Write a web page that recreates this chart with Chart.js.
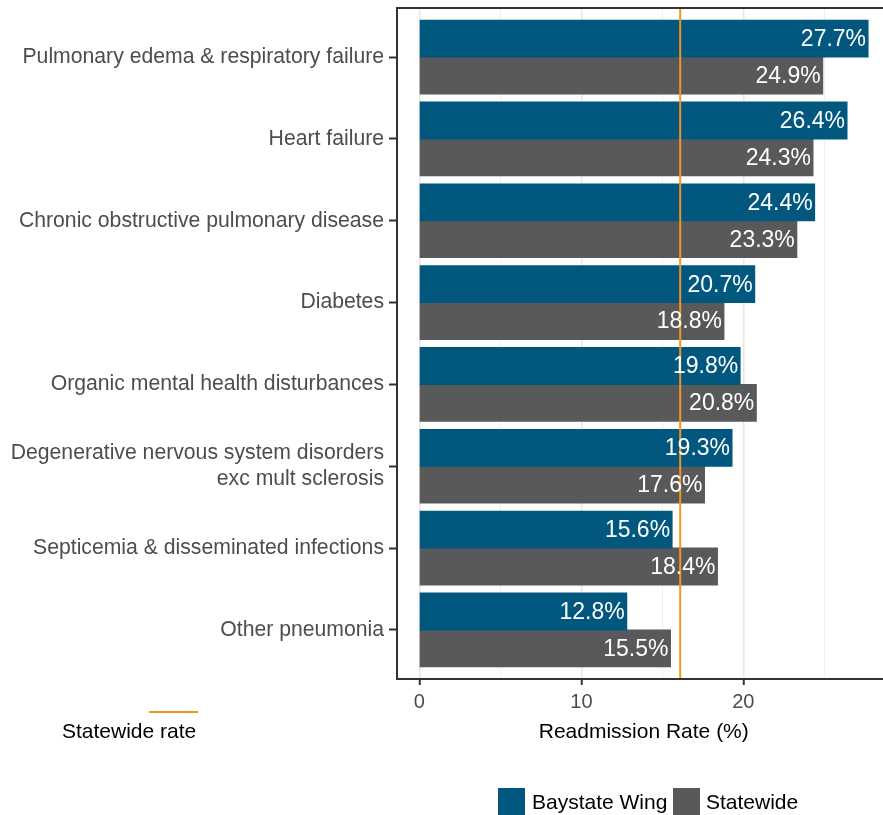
<!DOCTYPE html>
<html>
<head>
<meta charset="utf-8">
<script src="https://cdn.jsdelivr.net/npm/chart.js@4.4.0/dist/chart.umd.min.js"></script>
<style>
  html, body { margin: 0; padding: 0; background: #fff; overflow: hidden; }
  #wrap { position: relative; width: 883px; height: 815px; overflow: hidden; font-family: "Liberation Sans", Arial, sans-serif; }
  #c1 { position: absolute; left: 0; top: 0; }
  .lg { position: absolute; font-size: 21px; color: #000; line-height: 27px; white-space: nowrap; }
  .sw { position: absolute; width: 27px; height: 27px; }
</style>
</head>
<body>
<div id="wrap">
  <canvas id="c1" width="892" height="815"></canvas>
  <div style="position:absolute;left:149px;top:711px;width:49px;height:2px;background:#F7941D"></div>
  <div class="lg" style="left:62px;top:717px">Statewide rate</div>
  <div class="sw" style="left:498px;top:788px;background:#02577F"></div>
  <div class="lg" style="left:532px;top:788px">Baystate Wing</div>
  <div class="sw" style="left:673px;top:788px;background:#58595B"></div>
  <div class="lg" style="left:706px;top:788px">Statewide</div>
</div>
<script>
(function(divId){
    var categories = [
        'Pulmonary edema & respiratory failure',
        'Heart failure',
        'Chronic obstructive pulmonary disease',
        'Diabetes',
        'Organic mental health disturbances',
        ['Degenerative nervous system disorders', 'exc mult sclerosis'],
        'Septicemia & disseminated infections',
        'Other pneumonia'
    ];
    var baystate = [27.7, 26.4, 24.4, 20.7, 19.8, 19.3, 15.6, 12.8];
    var statewide = [24.9, 24.3, 23.3, 18.8, 20.8, 17.6, 18.4, 15.5];
    var statewideRate = 16.1;
    var xTicks = [0, 5, 10, 15, 20, 25];

    var toPoints = (vals) => vals.map((v, i) => ({ x: v, y: i }));

    var data = {
        datasets: [
            {
                label: 'Baystate Wing',
                data: toPoints(baystate),
                backgroundColor: '#02577F',
                categoryPercentage: 0.9,
                barPercentage: 1.0,
                inflateAmount: 0.5
            },
            {
                label: 'Statewide',
                data: toPoints(statewide),
                backgroundColor: '#58595B',
                categoryPercentage: 0.9,
                barPercentage: 1.0,
                inflateAmount: 0.5
            }
        ]
    };

    var framePlugin = {
        id: 'frame',
        afterDatasetsDraw: function(chart) {
            var a = chart.chartArea, ctx = chart.ctx;
            var xs = chart.scales.x.getPixelForValue(statewideRate);
            ctx.save();
            ctx.strokeStyle = '#F7941D';
            ctx.lineWidth = 2;
            ctx.beginPath();
            ctx.moveTo(xs, a.top);
            ctx.lineTo(xs, a.bottom);
            ctx.stroke();

            ctx.fillStyle = '#ffffff';
            ctx.font = '23px "Liberation Sans", Arial, sans-serif';
            ctx.textAlign = 'right';
            ctx.textBaseline = 'middle';
            chart.data.datasets.forEach(function(ds, di) {
                chart.getDatasetMeta(di).data.forEach(function(bar, i) {
                    ctx.fillText(ds.data[i].x.toFixed(1) + '%', bar.x - 2, bar.y + 1);
                });
            });

            ctx.strokeStyle = '#333333';
            ctx.lineWidth = 2;
            ctx.beginPath();
            ctx.moveTo(a.left, a.bottom);
            ctx.lineTo(a.left, a.top);
            ctx.lineTo(a.right, a.top);
            ctx.moveTo(a.left - 1, a.bottom);
            ctx.lineTo(a.right, a.bottom);
            ctx.stroke();
            ctx.restore();
        }
    };

    var options = {
        indexAxis: 'y',
        responsive: false,
        animation: false,
        layout: { padding: { top: 8, left: 0, right: 1.5, bottom: 70 } },
        plugins: {
            legend: { display: false },
            tooltip: { enabled: false }
        },
        scales: {
            y: {
                type: 'linear',
                reverse: true,
                offset: false,
                min: -0.6,
                max: 7.6,
                afterBuildTicks: function(scale) {
                    scale.ticks = categories.map((c, i) => ({ value: i }));
                },
                afterFit: function(scale) {
                    scale.width = 397;
                    scale.paddingTop = 0;
                    scale.paddingBottom = 0;
                },
                ticks: {
                    callback: (v) => categories[v],
                    color: '#4d4d4d',
                    font: { family: '"Liberation Sans", Arial, sans-serif', size: 21.2 },
                    padding: 5
                },
                grid: {
                    offset: false,
                    drawOnChartArea: false,
                    tickLength: 8,
                    tickWidth: 2,
                    tickColor: '#333333'
                },
                border: { display: false }
            },
            x: {
                type: 'linear',
                min: -1.385,
                max: 29.085,
                afterBuildTicks: function(scale) {
                    scale.ticks = xTicks.map((v) => ({ value: v }));
                },
                afterFit: function(scale) {
                    scale.height = 66;
                    scale.paddingLeft = 0;
                    scale.paddingRight = 0;
                },
                ticks: {
                    callback: (v) => (v % 10 === 0 ? String(v) : ''),
                    color: '#4d4d4d',
                    font: { family: '"Liberation Sans", Arial, sans-serif', size: 20 },
                    padding: 5,
                    maxRotation: 0
                },
                grid: {
                    color: (c) => (c.tick && c.tick.value % 10 === 0 ? '#e6e6e6' : '#f0f0f0'),
                    lineWidth: (c) => (c.tick && c.tick.value % 10 === 0 ? 1.5 : 1),
                    tickLength: 6,
                    tickWidth: 2,
                    tickColor: (c) => (c.tick && c.tick.value % 10 === 0 ? '#333333' : 'rgba(0,0,0,0)')
                },
                border: { display: false },
                title: {
                    display: true,
                    text: 'Readmission Rate (%)',
                    color: '#000000',
                    font: { family: '"Liberation Sans", Arial, sans-serif', size: 21 },
                    padding: { top: 0, bottom: 0 }
                }
            }
        }
    };

    var div = document.getElementById(divId);
    if (!div)
        return;

    var ctx = div.getContext("2d");
    var chart = new Chart(ctx, {
        type: 'bar',
        data: data,
        options: options,
        plugins: [framePlugin]
    });
})("c1");
</script>
</body>
</html>
